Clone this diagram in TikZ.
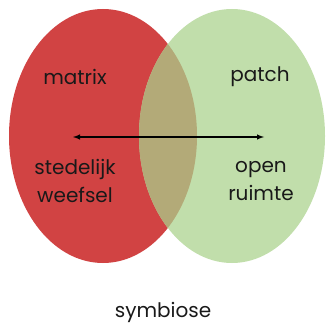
\documentclass[tikz,border=0pt]{standalone}
\usepackage{fontspec}
\setmainfont{Poppins}
\usepackage{xcolor}
\usepackage{tikz}
\definecolor{matrixred}{RGB}{209,67,67}
\definecolor{patchgreen}{RGB}{193,222,171}
\definecolor{overlap}{RGB}{179,170,120}

\begin{document}
\begin{tikzpicture}[x=1pt, y=1pt, label/.style={font=\fontsize{20}{28}\selectfont, align=center, text=black!90}]
        \useasboundingbox (0,0) rectangle (326,324);
        \fill[matrixred] (103,188) ellipse [x radius=94, y radius=127];
        \fill[patchgreen] (232,188) ellipse [x radius=93, y radius=127];
        \begin{scope}
          \clip (103,188) ellipse [x radius=94, y radius=127];
          \fill[overlap] (232,188) ellipse [x radius=93, y radius=127];
        \end{scope}

        \node[label] (matrix) at (75,247) {matrix};
        \node[label] (patch) at (260,247) {patch};
        \node[label] (weefsel) at (75,143) {stedelijk\\weefsel};
        \node[label] (ruimte) at (261,143) {open\\ruimte};
        \node[label] (symbiose) at (163,12) {symbiose};

        \coordinate (left) at (73,187);
        \coordinate (right) at (264,187);
        \draw[<->, >=latex, line width=1.4pt] (left) -- (right);
      \end{tikzpicture}
\end{document}
